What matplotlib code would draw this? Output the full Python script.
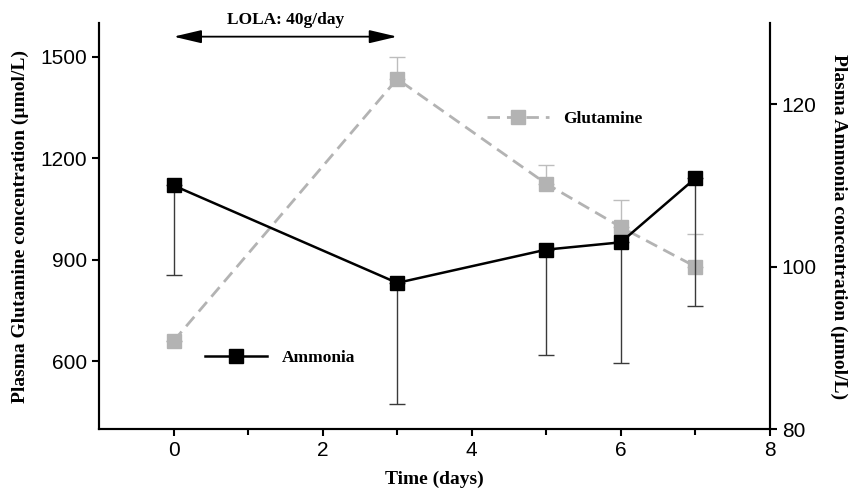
import matplotlib.pyplot as plt

# data
days = [0, 3, 5, 6, 7]
glutamine = [660, 1435, 1125, 997, 880]          # umol/L, left axis
glutamine_err_up = [0, 65, 57, 79, 96]
ammonia = [110.0, 98.0, 102.1, 103.0, 110.9]     # umol/L, right axis
ammonia_err_low = [11.0, 14.9, 13.0, 14.9, 15.8]

serif = ['Liberation Serif', 'DejaVu Serif']
sans = ['Liberation Sans', 'DejaVu Sans']
plt.rcParams['font.family'] = sans

fig = plt.figure(figsize=(8.51, 4.92), dpi=100)
ax = fig.add_axes([0.1163, 0.128, 0.7885, 0.825])
ax2 = ax.twinx()

# glutamine (grey, dashed)
ax.errorbar(days, glutamine, yerr=[[0]*len(days), glutamine_err_up],
            fmt='none', ecolor='#bdbdbd', elinewidth=1, capsize=6, capthick=1)
gl, = ax.plot(days, glutamine, color='#b3b3b3', linestyle=(0, (4.5, 2.5)), linewidth=2,
              marker='s', markersize=10.5, markerfacecolor='#b3b3b3', markeredgecolor='#b3b3b3')

# ammonia (black, solid)
ax2.errorbar(days, ammonia, yerr=[ammonia_err_low, [0]*len(days)],
             fmt='none', ecolor='#3a3a3a', elinewidth=1, capsize=6, capthick=1)
am, = ax2.plot(days, ammonia, color='black', linewidth=1.8,
               marker='s', markersize=10.5, markerfacecolor='black', markeredgecolor='black')

ax.set_xlim(-1, 8)
ax.set_ylim(400, 1600)
ax2.set_ylim(80, 130)
ax.set_xticks([0, 2, 4, 6, 8])
ax.set_xticks([1, 3, 5, 7], minor=True)
ax.set_yticks([600, 900, 1200, 1500])
ax2.set_yticks([80, 100, 120])

for a in (ax, ax2):
    a.spines['top'].set_visible(False)
    for s in a.spines.values():
        s.set_linewidth(1.5)
ax.tick_params(axis='both', which='major', direction='out', length=5, width=1.5, labelsize=15)
ax.tick_params(axis='x', which='minor', direction='out', length=4, width=1.5)
ax2.tick_params(axis='y', direction='out', length=5, width=1.5, labelsize=15)

ax.set_xlabel('Time (days)', family=serif, fontweight='bold', fontsize=14, labelpad=8)
ax.set_ylabel('Plasma Glutamine concentration (µmol/L)', family=serif,
              fontweight='bold', fontsize=14, labelpad=8)
ax2.set_ylabel('Plasma Ammonia concentration (µmol/L)', family=serif,
               fontweight='bold', fontsize=14, rotation=270, labelpad=22)

# LOLA treatment period arrow
ax.annotate('', xy=(3, 1560), xytext=(0, 1560), annotation_clip=False,
            arrowprops=dict(arrowstyle='<|-|>,head_length=0.85,head_width=0.2',
                            color='black', lw=1.3, mutation_scale=20,
                            shrinkA=0, shrinkB=0))
ax.text(1.5, 1585, 'LOLA: 40g/day', ha='center', va='bottom', family=serif,
        fontweight='bold', fontsize=12.5, clip_on=False)

# separate legends placed by each series
leg1 = ax2.legend([am], ['Ammonia'], loc='center left', bbox_to_anchor=(0.158, 0.175),
                  frameon=False, borderpad=0, borderaxespad=0, handlelength=3.6,
                  handletextpad=0.8, prop={'family': serif, 'weight': 'bold', 'size': 12.5})
ax2.add_artist(leg1)
ax2.legend([gl], ['Glutamine'], loc='center left', bbox_to_anchor=(0.578, 0.764),
           frameon=False, borderpad=0, borderaxespad=0, handlelength=3.6,
           handletextpad=0.8, prop={'family': serif, 'weight': 'bold', 'size': 12.5})

fig.savefig('out.png', dpi=100)
